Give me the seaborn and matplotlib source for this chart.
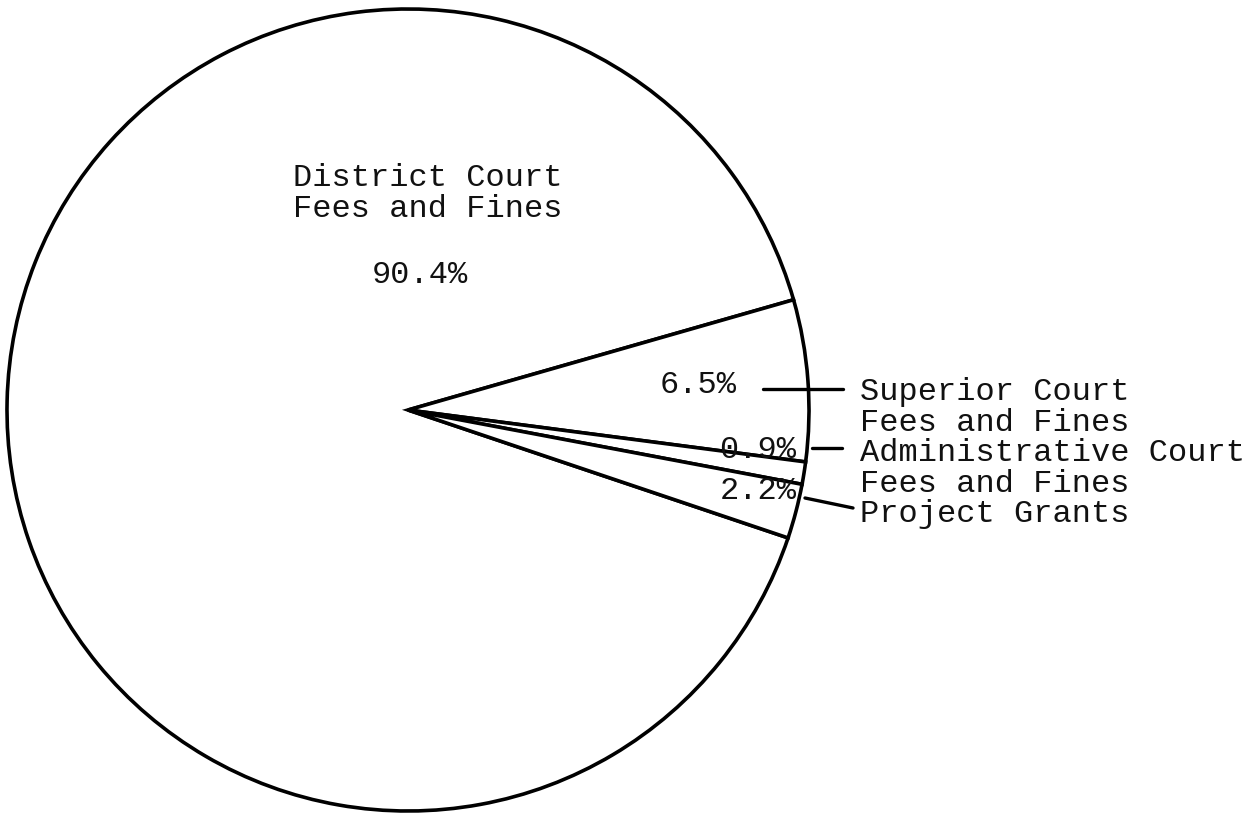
import matplotlib
matplotlib.use("Agg")
import matplotlib.pyplot as plt
import seaborn as sns

categories = ["District Court\nFees and Fines", "Superior Court\nFees and Fines",
              "Administrative Court\nFees and Fines", "Project Grants"]
values = [90.4, 6.5, 0.9, 2.2]
pct_labels = ["90.4%", "6.5%", "0.9%", "2.2%"]

sns.set_theme(style="white")
plt.rcParams['font.family'] = ['Liberation Mono', 'DejaVu Sans Mono']

W, H = 1251, 814
fig = plt.figure(figsize=(W / 100, H / 100), dpi=100)
ax = fig.add_axes([0, 0, 1, 1])

def Y(y):
    return H - y

cx, cy, r = 408, Y(410), 401
ax.pie(values, startangle=341.4, counterclock=False, center=(cx, cy), radius=r,
       colors=["white"] * 4,
       wedgeprops=dict(edgecolor="black", linewidth=2.6, facecolor="white"))
ax.set_xlim(0, W)
ax.set_ylim(0, H)
ax.set_aspect("equal")
ax.axis("off")

fs = 23
tk = dict(fontsize=fs, color="#111111")
# District label (va='baseline' aligns the last line's baseline)
ax.text(428, Y(217), categories[0], ha="center", va="baseline", linespacing=1.04, **tk)
ax.text(420, Y(283), pct_labels[0], ha="center", va="baseline", **tk)

# Small slice percentages
ax.text(737, Y(393), pct_labels[1], ha="right", va="baseline", **tk)
ax.text(796, Y(458), pct_labels[2], ha="right", va="baseline", **tk)
ax.text(797, Y(499), pct_labels[3], ha="right", va="baseline", **tk)

# Right-hand category block
right_block = "\n".join([categories[1], categories[2], categories[3]])
ax.text(860, Y(522), right_block, ha="left", va="baseline", linespacing=1.02, **tk)

# leader lines
ax.plot([763, 843], [Y(389), Y(389)], color="black", lw=2.4, solid_capstyle="round")
ax.plot([812, 842], [Y(448), Y(448)], color="black", lw=2.4, solid_capstyle="round")
ax.plot([805, 853], [Y(498), Y(508)], color="black", lw=2.4, solid_capstyle="round")

fig.savefig("out.png", dpi=100, facecolor="white")
